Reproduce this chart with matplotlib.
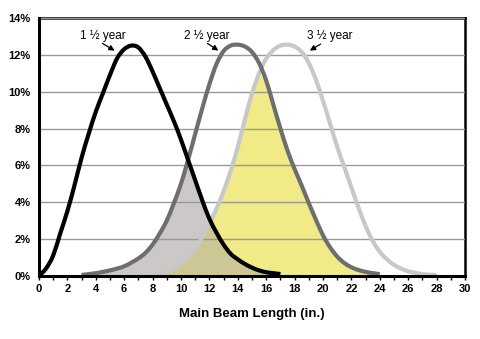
import numpy as np
import matplotlib
matplotlib.use("Agg")
import matplotlib.pyplot as plt
from matplotlib.path import Path
from matplotlib.patches import PathPatch
from matplotlib.ticker import MultipleLocator, FuncFormatter

# shared x grid (inches), 0.5 step
x = np.arange(0, 28.5, 0.5)
nan = np.nan

# frequency (%); nan outside each curve's range
y_15 = [0.0, 0.4, 1.1, 2.3, 3.5, 4.9, 6.4, 7.7, 8.9, 9.9,
        10.9, 11.8, 12.3, 12.5, 12.4, 11.9, 11.1, 10.2, 9.3, 8.4,
        7.4, 6.3, 5.2, 4.1, 3.1, 2.35, 1.7, 1.2, 0.9, 0.65,
        0.45, 0.3, 0.2, 0.15, 0.1] + [nan] * 22
y_25 = [nan] * 6 + [0.05, 0.1, 0.15, 0.22, 0.3, 0.4, 0.52, 0.72, 0.95, 1.25,
        1.7, 2.3, 3.0, 3.95, 5.0, 6.3, 7.7, 9.1, 10.4, 11.5,
        12.2, 12.5, 12.55, 12.45, 12.15, 11.55, 10.6, 9.3, 8.0, 6.8,
        5.8, 4.9, 3.95, 3.05, 2.2, 1.55, 1.05, 0.7, 0.47, 0.32,
        0.22, 0.15, 0.1] + [nan] * 8
y_35 = [nan] * 16 + [0.05, 0.12, 0.25, 0.42, 0.65, 1.0, 1.5, 2.1, 2.85, 3.65,
        4.6, 5.7, 7.0, 8.5, 9.9, 11.0, 11.8, 12.25, 12.5, 12.55,
        12.45, 12.15, 11.55, 10.65, 9.5, 8.25, 7.0, 5.9, 4.8, 3.7,
        2.7, 1.9, 1.3, 0.9, 0.6, 0.4, 0.25, 0.17, 0.1, 0.07, 0.05]

labels = ["1 \u00bd year", "2 \u00bd year", "3 \u00bd year"]
colors = ["#000000", "#6e6e6e", "#c8c8c8"]

plt.rcParams["font.family"] = ["Liberation Sans", "DejaVu Sans"]


def smooth_path(xs, ys):
    # Catmull-Rom through the read points, as cubic Bezier segments
    ok = ~np.isnan(ys)
    p = np.column_stack([xs[ok], ys[ok]])
    verts = [p[0]]
    codes = [Path.MOVETO]
    for i in range(len(p) - 1):
        p0 = p[i - 1] if i > 0 else p[i]
        p3 = p[i + 2] if i + 2 < len(p) else p[i + 1]
        c1 = p[i] + (p[i + 1] - p0) / 6
        c2 = p[i + 1] - (p3 - p[i]) / 6
        verts += [c1, c2, p[i + 1]]
        codes += [Path.CURVE4] * 3
    return Path(verts, codes)


a = np.array(y_15)
b = np.array(y_25)
c = np.array(y_35)

fig = plt.figure(figsize=(4.8, 3.39), dpi=100)
ax = fig.add_axes([0.081, 0.186, 0.888, 0.761])

# overlap shading
grey_top = np.minimum(a, b)
yel_top = np.minimum(b, c)
ol_top = np.minimum(grey_top, c)
ax.fill_between(x, 0, grey_top, where=~np.isnan(grey_top), color="#cdc8c8", lw=0, zorder=1)
ax.fill_between(x, 0, yel_top, where=~np.isnan(yel_top), color="#f0eb87", lw=0, zorder=1)
ax.fill_between(x, 0, ol_top, where=~np.isnan(ol_top), color="#cdc796", lw=0, zorder=1)

# curves
for ys, col, z in [(c, colors[2], 3), (b, colors[1], 4), (a, colors[0], 5)]:
    ax.add_patch(PathPatch(smooth_path(x, ys), facecolor="none", edgecolor=col,
                           lw=3.0, zorder=z, capstyle="butt"))

# labels with arrows
ann = [((4.3, 12.7), (5.5, 12.15), (4.5, 13.0)),
       ((11.7, 12.7), (12.8, 12.15), (11.8, 13.0)),
       ((20.0, 12.66), (18.9, 12.15), (20.5, 13.0))]
for lab, (tail, head, txt) in zip(labels, ann):
    ax.text(txt[0], txt[1], lab, ha="center", va="center", fontsize=8.5, zorder=6)
    ax.annotate("", xy=head, xytext=tail,
                arrowprops=dict(arrowstyle="-|>", color="black", lw=0.9,
                                mutation_scale=8), zorder=6)

ax.set_xlim(0, 30)
ax.set_ylim(0, 14)
ax.xaxis.set_major_locator(MultipleLocator(2))
ax.xaxis.set_minor_locator(MultipleLocator(1))
ax.yaxis.set_major_locator(MultipleLocator(2))
ax.yaxis.set_major_formatter(FuncFormatter(lambda v, p: "%d%%" % v))
ax.grid(axis="y", color="#999999", lw=1.0, zorder=2)
ax.set_axisbelow(False)
for line in ax.get_ygridlines():
    line.set_zorder(2)

ax.tick_params(axis="y", length=0, labelsize=8, pad=6)
ax.tick_params(axis="x", which="both", direction="out", length=3, width=1, labelsize=8, pad=3)
for lab in ax.get_xticklabels() + ax.get_yticklabels():
    lab.set_fontweight("bold")

for side in ["left", "bottom"]:
    ax.spines[side].set_linewidth(2.2)
    ax.spines[side].set_zorder(7)
for side in ["top", "right"]:
    ax.spines[side].set_linewidth(1.8)

ax.set_xlabel("Main Beam Length (in.)", fontsize=9.5, fontweight="bold", labelpad=10)

fig.savefig("out.png", dpi=100)
